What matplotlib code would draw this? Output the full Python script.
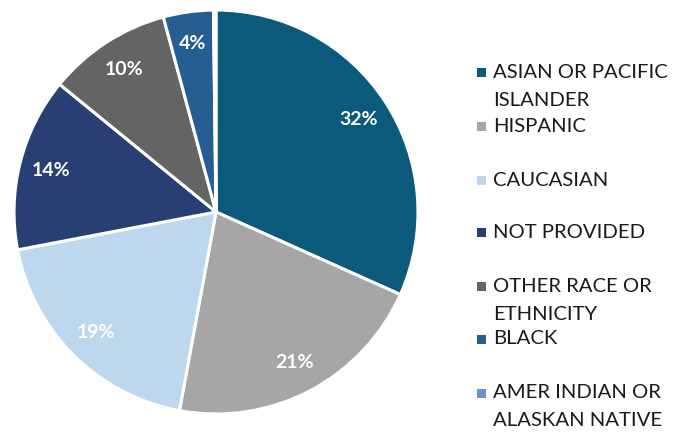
import matplotlib
matplotlib.use("Agg")
import matplotlib.pyplot as plt
from matplotlib.patches import Rectangle

categories = ["ASIAN OR PACIFIC\nISLANDER", "HISPANIC", "CAUCASIAN", "NOT PROVIDED",
              "OTHER RACE OR\nETHNICITY", "BLACK", "AMER INDIAN OR\nALASKAN NATIVE"]
values = [31.7, 21.2, 19.1, 13.9, 9.9, 4.0, 0.2]
colors = ["#0B5A7C", "#A6A6A6", "#BDD7EE", "#283F73", "#646464", "#255E91", "#6A93D4"]

fig = plt.figure(figsize=(6.75, 4.33), dpi=100)
W, H = 675, 433
cx, cy, r = 216, 212, 204
ax = fig.add_axes([(cx - r) / W, (H - cy - r) / H, 2 * r / W, 2 * r / H])

wedges, texts, autotexts = ax.pie(
    values, colors=colors, startangle=90, counterclock=False,
    wedgeprops=dict(edgecolor="white", linewidth=2.2),
    autopct=lambda p: f"{p:.0f}%" if p > 1 else "",
    pctdistance=0.84,
    textprops=dict(color="white", fontsize=14, fontweight="bold", family="Lato"))
ax.set_xlim(-1.01, 1.01)
ax.set_ylim(-1.01, 1.01)
ax.set_aspect("equal")
ax.axis("off")

# legend drawn manually
row_y = [72, 126, 180, 232, 286, 339, 393]
for lab, col, y in zip(categories, colors, row_y):
    fig.patches.append(Rectangle(((477) / W, (H - y - 5) / H), 9 / W, 9 / H,
                                 transform=fig.transFigure, facecolor=col, edgecolor="none"))
    lines = lab.split("\n")
    for i, ln in enumerate(lines):
        fig.text(493 / W, (H - y - i * 28) / H, ln, fontsize=14.6, family="Lato",
                 color="#1A1A1A", va="center", ha="left")

fig.savefig("out.png", dpi=100)
